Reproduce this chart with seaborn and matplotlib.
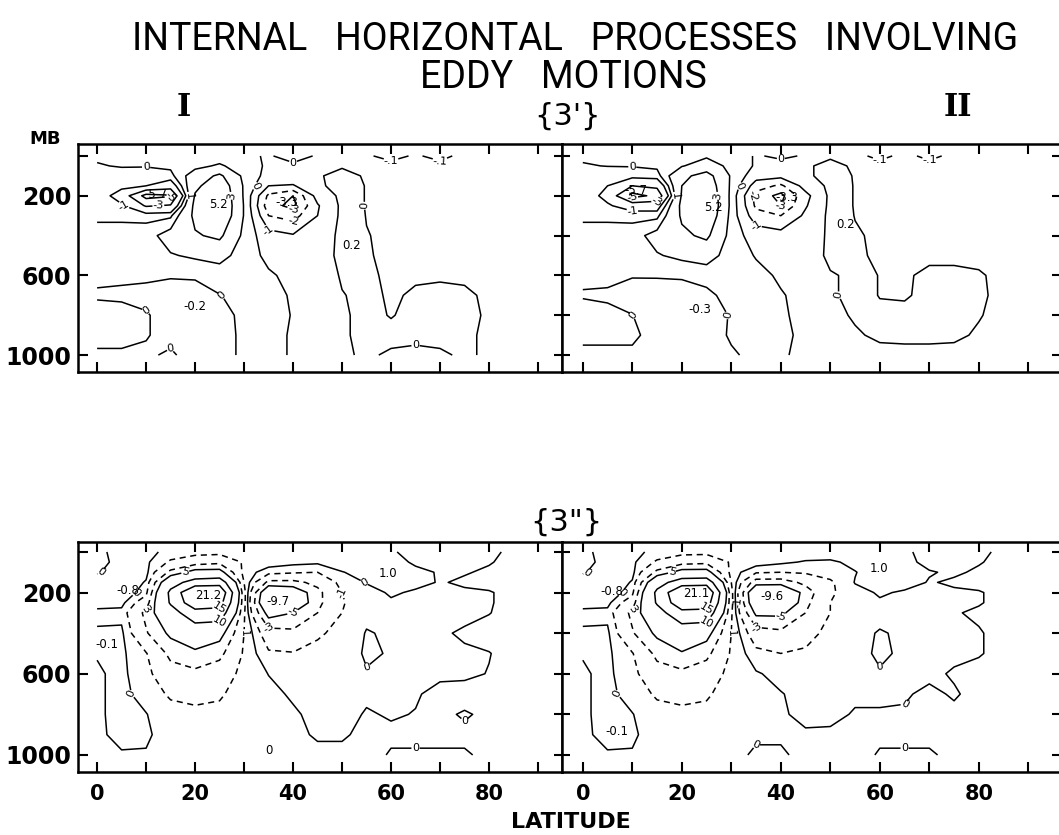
import numpy as np
import matplotlib
matplotlib.use("Agg")
import matplotlib.pyplot as plt
import seaborn as sns

sns.set_theme(style="white")
plt.rcParams["font.family"] = ["DejaVu Sans"]
plt.rcParams["text.color"] = "black"
plt.rcParams["xtick.color"] = "black"
plt.rcParams["ytick.color"] = "black"

# grid: latitude (deg) x pressure (mb)
lats = [0, 5, 10, 15, 20, 25, 30, 35, 40, 45, 50, 55, 60, 65, 70, 75, 80, 85, 90]
pres = [0, 50, 100, 150, 200, 250, 300, 400, 500, 600, 700, 800, 900, 1000]

# {3'} panel I
top_I = [
    [0.1, 0.2, 0.2, 0.2, 0.3, 0.3, 0.1, -0.05, 0.2, -0.05, -0.05, -0.08, -0.15, -0.08, -0.15, -0.05, -0.05, -0.05, -0.05],
    [-0.05, 0.05, 0.05, 0.2, 0.6, 1.2, 0.3, -0.1, -0.1, -0.05, -0.05, -0.05, -0.05, -0.05, -0.05, -0.03, -0.03, -0.03, -0.03],
    [-0.1, -0.3, -0.4, -0.3, 1.8, 3.4, 0.6, -0.3, -0.3, -0.05, 0.15, -0.05, -0.05, -0.05, -0.05, -0.03, -0.03, -0.03, -0.03],
    [-0.1, -0.6, -1.0, -2.0, 2.5, 4.5, 0.8, -1.0, -1.1, -0.1, 0.2, -0.02, -0.05, -0.05, -0.05, -0.03, -0.03, -0.03, -0.03],
    [-0.1, -1.8, -5.7, -5.2, 3.2, 5.0, 0.8, -2.2, -3.0, -0.6, 0.2, -0.02, -0.05, -0.05, -0.05, -0.03, -0.03, -0.03, -0.03],
    [-0.1, -0.8, -3.2, -2.8, 3.6, 5.2, 0.9, -2.6, -3.3, -1.1, 0.2, -0.02, -0.05, -0.05, -0.05, -0.03, -0.03, -0.03, -0.03],
    [-0.1, -0.15, -0.3, -0.2, 3.5, 5.0, 0.9, -2.0, -2.4, -1.0, 0.2, -0.01, -0.05, -0.05, -0.05, -0.03, -0.03, -0.03, -0.03],
    [0.2, 0.3, 0.5, 1.6, 2.8, 3.4, 0.6, -0.6, -0.9, -0.5, 0.2, 0.01, -0.05, -0.05, -0.05, -0.03, -0.03, -0.03, -0.03],
    [0.3, 0.3, 0.3, 0.9, 1.2, 1.5, 0.4, -0.2, -0.5, -0.4, 0.2, 0.02, -0.05, -0.05, -0.05, -0.05, -0.05, -0.05, -0.05],
    [0.05, 0.05, 0.06, 0.04, 0.06, 0.3, 0.3, 0.1, -0.2, -0.3, 0.05, 0.05, -0.05, -0.05, -0.05, -0.05, -0.05, -0.05, -0.05],
    [-0.03, -0.05, -0.1, -0.2, -0.2, -0.02, 0.2, 0.15, -0.05, -0.2, -0.02, 0.1, -0.05, 0.05, 0.1, 0.05, -0.05, -0.05, -0.05],
    [0.1, 0.1, 0.03, -0.15, -0.2, -0.15, 0.1, 0.15, -0.02, -0.15, -0.05, 0.1, -0.02, 0.1, 0.15, 0.1, -0.05, -0.05, -0.05],
    [0.1, 0.1, 0.02, -0.1, -0.2, -0.1, 0.05, 0.15, -0.05, -0.1, -0.05, 0.1, 0.1, 0.1, 0.1, 0.05, -0.05, -0.05, -0.05],
    [-0.05, -0.05, -0.05, 0.05, -0.15, -0.1, 0.05, 0.15, -0.05, -0.1, -0.05, 0.05, -0.05, -0.1, -0.05, 0.05, -0.05, -0.05, -0.05],
]

# {3'} panel II
top_II = [
    [0.1, 0.15, 0.2, 0.3, 0.5, 0.8, 0.3, -0.05, 0.1, -0.05, -0.05, -0.06, -0.14, -0.06, -0.14, -0.06, -0.05, -0.05, -0.05],
    [-0.05, 0.02, 0.05, 0.2, 0.9, 1.8, 0.6, -0.1, -0.2, -0.05, 0.1, -0.05, -0.05, -0.05, -0.05, -0.04, -0.04, -0.04, -0.04],
    [-0.1, -0.4, -0.5, -0.4, 2.5, 3.8, 0.8, -0.6, -0.7, -0.1, 0.2, -0.03, -0.05, -0.05, -0.05, -0.04, -0.04, -0.04, -0.04],
    [-0.1, -1.0, -3.0, -2.5, 3.0, 4.5, 0.7, -1.5, -2.2, -0.6, 0.2, -0.02, -0.05, -0.05, -0.05, -0.04, -0.04, -0.04, -0.04],
    [-0.1, -1.5, -5.7, -4.5, 3.2, 5.0, 0.6, -2.4, -3.3, -1.3, 0.2, -0.02, -0.05, -0.05, -0.05, -0.04, -0.04, -0.04, -0.04],
    [-0.1, -0.8, -1.8, -1.8, 3.5, 5.2, 0.6, -2.2, -3.0, -1.1, 0.2, -0.02, -0.05, -0.05, -0.05, -0.04, -0.04, -0.04, -0.04],
    [-0.1, -0.15, -0.3, -0.3, 3.3, 4.8, 0.5, -1.6, -2.0, -0.8, 0.2, -0.01, -0.05, -0.05, -0.05, -0.04, -0.04, -0.04, -0.04],
    [0.2, 0.3, 0.5, 1.5, 2.6, 3.4, 0.4, -0.4, -0.6, -0.5, 0.15, 0.03, -0.05, -0.05, -0.05, -0.04, -0.04, -0.04, -0.04],
    [0.3, 0.3, 0.3, 0.9, 1.3, 1.6, 0.4, -0.05, -0.4, -0.4, 0.15, 0.05, -0.05, -0.05, -0.05, -0.05, -0.05, -0.05, -0.05],
    [0.05, 0.08, 0.03, 0.05, 0.08, 0.3, 0.4, 0.2, -0.1, -0.3, -0.05, 0.1, -0.01, -0.03, 0.05, 0.05, 0.02, -0.05, -0.05],
    [-0.02, -0.05, -0.2, -0.3, -0.3, -0.2, 0.3, 0.3, 0.05, -0.2, -0.05, 0.1, -0.01, -0.02, 0.05, 0.05, 0.03, -0.05, -0.05],
    [0.1, 0.08, 0.01, -0.3, -0.35, -0.3, 0.05, 0.2, 0.1, -0.2, -0.05, 0.02, 0.05, 0.05, 0.08, 0.06, 0.01, -0.05, -0.05],
    [0.05, 0.05, 0.05, -0.1, -0.3, -0.2, 0.05, 0.15, 0.1, -0.1, -0.05, -0.02, 0.03, 0.04, 0.04, 0.03, -0.02, -0.05, -0.05],
    [-0.05, -0.05, -0.05, -0.1, -0.2, -0.1, -0.05, 0.1, 0.05, -0.1, -0.05, -0.05, -0.05, -0.05, -0.05, -0.05, -0.05, -0.05, -0.05],
]

# {3"} panel I
bot_I = [
    [0.2, -0.3, -0.3, 0.3, 0.5, 0.5, 0.5, 0.5, 0.5, 0.6, 0.7, 0.7, 0.1, -0.3, -0.3, -0.3, -0.1, 0.1, 0.1],
    [0.2, -0.2, -0.2, 1.2, 2.0, 2.5, 0.8, 0.5, 0.3, 0.2, 0.6, 0.8, 0.5, -0.2, -0.3, -0.2, -0.05, 0.2, 0.2],
    [0.1, -0.5, -0.3, 3.5, 6.0, 6.0, 0.5, -0.5, -0.8, -1.0, -0.05, 0.4, 0.7, 0.3, -0.1, -0.05, 0.1, 0.2, 0.2],
    [-0.5, -0.8, 0.1, 8.0, 12.0, 13.0, 1.0, -3.5, -3.5, -2.5, -0.5, 0.05, 0.5, 0.2, -0.05, 0.1, 0.2, 0.2, 0.2],
    [-0.8, -0.8, 0.6, 11.0, 20.5, 19.5, 1.5, -8.0, -7.0, -3.5, -1.0, -0.3, 0.1, -0.1, -0.15, -0.1, -0.05, 0.2, 0.2],
    [-0.3, -0.3, 2.0, 10.5, 18.5, 17.0, 1.5, -9.0, -7.5, -3.5, -1.1, -0.3, -0.1, -0.2, -0.2, -0.2, -0.05, 0.2, 0.2],
    [0.2, 0.3, 3.5, 8.0, 13.0, 13.0, 1.2, -6.0, -5.0, -3.0, -1.0, -0.2, -0.2, -0.2, -0.2, -0.2, -0.02, 0.2, 0.2],
    [-0.1, -0.2, 2.8, 5.5, 7.0, 6.0, 1.0, -2.0, -2.5, -1.2, -0.6, 0.05, -0.1, -0.1, -0.1, 0.1, 0.2, 0.2, 0.2],
    [-0.05, -0.2, 0.9, 3.5, 4.5, 3.5, 0.8, -0.8, -0.9, -0.6, -0.4, 0.1, -0.05, -0.1, -0.1, -0.1, -0.02, 0.2, 0.2],
    [0.1, -0.2, 0.6, 2.2, 2.5, 2.0, 0.5, -0.02, -0.3, -0.4, -0.3, -0.05, -0.1, -0.1, -0.1, -0.1, 0.02, 0.2, 0.2],
    [0.1, -0.2, 0.3, 1.2, 1.5, 1.2, 0.3, 0.2, -0.1, -0.3, -0.3, -0.1, -0.1, -0.05, 0.15, 0.2, 0.2, 0.2, 0.2],
    [0.1, -0.2, -0.03, 0.5, 0.6, 0.6, 0.3, 0.3, 0.1, -0.2, -0.2, 0.05, -0.05, 0.02, 0.1, -0.05, 0.1, 0.2, 0.2],
    [0.1, -0.15, -0.1, 0.3, 0.3, 0.3, 0.3, 0.3, 0.2, -0.1, -0.1, 0.2, 0.1, 0.1, 0.1, 0.1, 0.1, 0.2, 0.2],
    [0.1, 0.05, 0.05, 0.2, 0.2, 0.2, 0.3, 0.3, 0.2, 0.2, 0.2, 0.2, -0.05, -0.05, -0.05, -0.05, 0.1, 0.2, 0.2],
]

# {3"} panel II
bot_II = [
    [0.2, -0.3, -0.3, 0.3, 0.5, 0.5, 0.5, 0.5, 0.6, 0.6, 0.7, 0.7, 0.7, 0.1, -0.2, -0.3, -0.1, 0.1, 0.1],
    [0.2, -0.2, -0.2, 1.2, 2.2, 2.5, 0.8, 0.5, 0.2, -0.1, -0.2, 0.3, 0.6, 0.2, -0.2, -0.2, -0.05, 0.2, 0.2],
    [0.1, -0.5, -0.3, 3.5, 6.0, 6.0, 0.5, -0.8, -1.0, -0.8, -0.5, -0.05, 0.6, 0.4, 0.05, -0.1, 0.1, 0.2, 0.2],
    [-0.5, -0.8, 0.1, 8.0, 12.5, 13.0, 1.0, -4.0, -4.0, -2.5, -1.2, 0.05, 0.5, 0.3, -0.05, 0.1, 0.2, 0.2, 0.2],
    [-0.8, -0.8, 0.6, 11.0, 20.0, 20.0, 1.5, -8.0, -8.5, -4.0, -1.2, -0.3, 0.1, -0.1, -0.15, -0.1, -0.05, 0.2, 0.2],
    [-0.3, -0.3, 2.0, 10.5, 18.5, 17.5, 1.5, -7.5, -8.5, -3.5, -1.0, -0.3, -0.1, -0.2, -0.2, -0.2, -0.05, 0.2, 0.2],
    [0.2, 0.3, 3.5, 8.0, 13.5, 13.5, 1.2, -5.5, -5.5, -3.0, -1.0, -0.2, -0.2, -0.2, -0.2, -0.05, 0.1, 0.2, 0.2],
    [-0.1, -0.2, 2.8, 5.5, 7.0, 6.0, 1.0, -2.0, -2.5, -1.5, -0.6, -0.2, 0.05, -0.1, -0.1, -0.1, -0.05, 0.2, 0.2],
    [-0.05, -0.2, 0.9, 3.5, 4.8, 3.5, 0.8, -0.6, -1.0, -0.8, -0.5, -0.2, 0.1, -0.1, -0.1, -0.1, -0.05, 0.2, 0.2],
    [0.1, -0.2, 0.6, 2.2, 2.5, 2.0, 0.5, 0.1, -0.3, -0.5, -0.4, -0.2, -0.05, -0.1, -0.1, 0.05, 0.2, 0.2, 0.2],
    [0.1, -0.2, 0.3, 1.2, 1.5, 1.2, 0.3, 0.3, 0.05, -0.3, -0.3, -0.1, -0.1, -0.05, 0.1, -0.05, 0.15, 0.2, 0.2],
    [0.1, -0.2, -0.03, 0.5, 0.6, 0.6, 0.3, 0.3, 0.1, -0.2, -0.15, 0.05, 0.05, 0.05, 0.1, 0.1, 0.1, 0.2, 0.2],
    [0.1, -0.15, -0.1, 0.3, 0.3, 0.3, 0.3, 0.05, 0.05, 0.1, 0.1, 0.2, 0.1, 0.1, 0.1, 0.2, 0.1, 0.2, 0.2],
    [0.1, 0.05, 0.05, 0.2, 0.2, 0.2, 0.1, -0.05, -0.05, 0.1, 0.2, 0.2, -0.05, -0.05, -0.05, 0.1, 0.1, 0.2, 0.2],
]

# values written inside the panels
notes_top_I = [(11.9, 195, "-5.7"), (24.8, 245, "5.2"), (38.7, 233, "-3.3"), (51.9, 451, "0.2"), (20, 757, "-0.2")]
notes_top_II = [(10.8, 176, "-5.7"), (26.4, 260, "5.2"), (41.2, 210, "-3.3"), (53, 345, "0.2"), (23.6, 773, "-0.3")]
notes_bot_I = [(22.6, 213, "21.2"), (37, 244, "-9.7"), (6.2, 189, "-0.8"), (1.9, 458, "-0.1"), (59.4, 105, "1.0"), (35, 976, "0")]
notes_bot_II = [(22.9, 203, "21.1"), (38.3, 220, "-9.6"), (5.8, 195, "-0.8"), (6.8, 886, "-0.1"), (59.8, 81, "1.0")]

top_solid = [-5, -3, -1, 0, 1, 3]
bot_solid = [-5, 0, 5, 10, 15]
bot_dashed = [-3, -1, 1, 3]

W, H = 1059, 835
fig = plt.figure(figsize=(W / 100, H / 100), dpi=100)


def px_axes(x0, y0, x1, y1):
    return fig.add_axes([x0 / W, 1 - y1 / H, (x1 - x0) / W, (y1 - y0) / H])


LAT, PRS = np.meshgrid(lats, pres)


def fmt(v):
    if abs(v - round(v)) < 1e-6:
        return "%d" % round(v)
    return ("%g" % v).replace("0.", ".")


def draw(ax, field, solid, dashed=None, dashed_from=None, top_arcs=False):
    Z = np.array(field)
    cs = ax.contour(lats, pres, Z, levels=solid, colors="black",
                    linewidths=1.1, linestyles="solid")
    ax.clabel(cs, fmt=fmt, fontsize=8, inline=True, inline_spacing=1)
    if dashed is not None:
        Zd = Z if dashed_from is None else np.ma.masked_where(LAT < dashed_from, Z)
        cd = ax.contour(lats, pres, Zd, levels=dashed, colors="black",
                        linewidths=1.1, linestyles=[(0, (4, 3))])
        ax.clabel(cd, fmt=fmt, fontsize=8, inline=True, inline_spacing=1)
    if top_arcs:
        Zt = np.ma.masked_where((PRS > 50) | (LAT < 50), Z)
        ct = ax.contour(lats, pres, Zt, levels=[-0.1], colors="black",
                        linewidths=1.1, linestyles="solid")
        ax.clabel(ct, fmt=fmt, fontsize=8, inline=True, inline_spacing=1)


def frame(ax, xlim, ylim, left_labels, bottom_labels, second):
    ax.set_xlim(*xlim)
    ax.set_ylim(*ylim)
    for s in ax.spines.values():
        s.set_visible(True)
        s.set_color("black")
        s.set_linewidth(1.8)
    ax.set_xticks(range(0, 100, 10))
    if bottom_labels:
        ax.set_xticklabels(["0", "", "20", "", "40", "", "60", "", "80", ""])
    else:
        ax.set_xticklabels([])
    ax.tick_params(axis="x", which="both", direction="in", top=True, bottom=True,
                   length=7, width=1.5, color="black", pad=9,
                   labelsize=15, labelcolor="black")
    for lab in ax.get_xticklabels():
        lab.set_fontweight("bold")
    if not second:
        ax.set_yticks([0, 200, 600, 1000])
        ax.set_yticklabels(["", "200", "600", "1000"] if left_labels else [])
        ax.tick_params(axis="y", direction="in", left=True, right=False,
                       length=7, width=1.5, color="black", pad=5, labelsize=17,
                       labelcolor="black")
        for lab in ax.get_yticklabels():
            lab.set_fontweight("bold")
    else:
        ax.set_yticks(range(0, 1001, 200))
        ax.set_yticklabels([])
        ax.tick_params(axis="y", direction="inout", left=True, right=False,
                       length=12, width=1.5, color="black")
        ax2 = ax.secondary_yaxis("right")
        ax2.set_yticks(range(0, 1001, 200))
        ax2.set_yticklabels([])
        ax2.tick_params(direction="in", length=7, width=1.5, color="black")
    ax.set_facecolor("white")


def notes(ax, items):
    for x, y, t in items:
        ax.text(x, y, t, ha="center", va="center", fontsize=8.5, color="black")


xl_I = (-3.9, 94.9)
xl_II = (-4.2, 96.8)

ax1 = px_axes(78, 144, 562, 372)
draw(ax1, top_I, top_solid, dashed=[-2], dashed_from=28, top_arcs=True)
notes(ax1, notes_top_I)
frame(ax1, xl_I, (1085, -60), True, False, False)

ax2 = px_axes(562, 144, 1062, 372)
draw(ax2, top_II, top_solid, dashed=[-2], dashed_from=28, top_arcs=True)
notes(ax2, notes_top_II)
frame(ax2, xl_II, (1085, -60), False, False, True)

ax3 = px_axes(78, 542, 562, 772)
draw(ax3, bot_I, bot_solid, dashed=bot_dashed)
notes(ax3, notes_bot_I)
frame(ax3, xl_I, (1084, -49), True, True, False)

ax4 = px_axes(562, 542, 1062, 772)
draw(ax4, bot_II, bot_solid, dashed=bot_dashed)
notes(ax4, notes_bot_II)
frame(ax4, xl_II, (1084, -49), False, True, True)

# titles and labels
title_font = ["Roboto", "DejaVu Sans"]
fig.text(575 / W, 1 - 40 / H, "INTERNAL   HORIZONTAL   PROCESSES   INVOLVING",
         ha="center", va="center", fontsize=27, family=title_font,
         fontweight="normal", color="black")
fig.text(563 / W, 1 - 77 / H, "EDDY   MOTIONS", ha="center", va="center",
         fontsize=27, family=title_font, fontweight="normal", color="black")
fig.text(184 / W, 1 - 108 / H, "I", ha="center", va="center", fontsize=22,
         family=["DejaVu Serif"], fontweight="bold", color="black")
fig.text(958 / W, 1 - 108 / H, "II", ha="center", va="center", fontsize=22,
         family=["DejaVu Serif"], fontweight="bold", color="black")
fig.text(568 / W, 1 - 116 / H, "{3'}", ha="center", va="center", fontsize=22,
         color="black")
fig.text(566 / W, 1 - 522 / H, "{3\"}", ha="center", va="center", fontsize=22,
         color="black")
fig.text(45 / W, 1 - 139 / H, "MB", ha="center", va="center", fontsize=13,
         fontweight="bold", color="black")
fig.text(571 / W, 1 - 822 / H, "LATITUDE", ha="center", va="center", fontsize=16,
         fontweight="bold", color="black")

fig.savefig("out.png", dpi=100, facecolor="white")
